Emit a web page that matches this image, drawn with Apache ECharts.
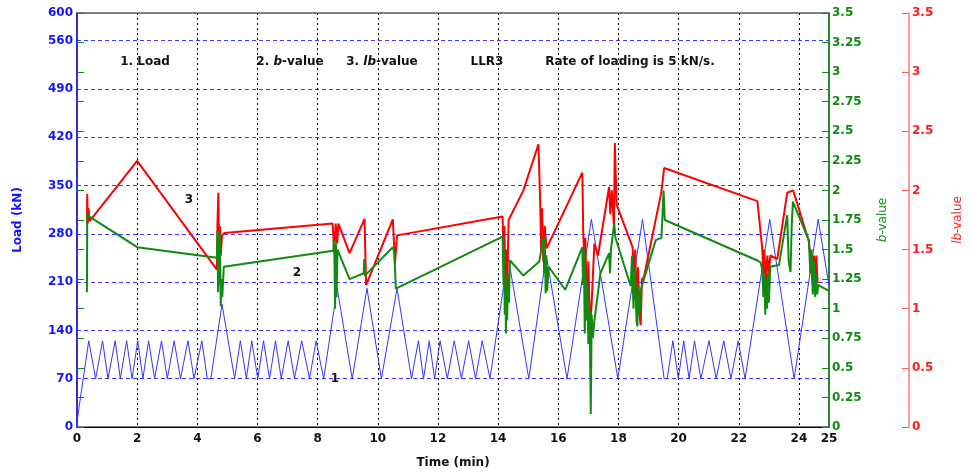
<!DOCTYPE html>
<html>
<head>
<meta charset="utf-8">
<script src="https://cdn.jsdelivr.net/npm/echarts@6/dist/echarts.min.js"></script>
<style>
html, body { margin: 0; padding: 0; background: #fff; }
#chart { width: 972px; height: 474px; }
</style>
</head>
<body>
<div id="chart"></div>
<script>
// load (kN) vs time (min)
var loadData = [
  [0, 8], [0.39, 125], [0.62, 70], [0.85, 125], [1.03, 70], [1.27, 125], [1.44, 70],
  [1.65, 125], [1.83, 70], [2.02, 125], [2.19, 70], [2.38, 125], [2.58, 70], [2.81, 125],
  [3.0, 70], [3.23, 125], [3.44, 70], [3.69, 125], [3.89, 70], [4.15, 125], [4.33, 70],
  [4.45, 70], [4.82, 178], [5.24, 70], [5.43, 125], [5.63, 70], [5.81, 125], [6.01, 70],
  [6.2, 125], [6.4, 70], [6.6, 125], [6.79, 70], [7.02, 125], [7.23, 70], [7.47, 125],
  [7.73, 70], [7.95, 125], [8.2, 70], [8.65, 201], [9.15, 70], [9.64, 201], [10.12, 70],
  [10.64, 201], [11.12, 70], [11.35, 125], [11.52, 70], [11.71, 125], [11.89, 70],
  [12.07, 125], [12.31, 70], [12.54, 125], [12.78, 70], [13.02, 125], [13.25, 70],
  [13.47, 125], [13.73, 70], [14.33, 248], [15.02, 70], [15.6, 249], [16.29, 70],
  [17.1, 301], [17.98, 70], [18.8, 301], [19.52, 70], [19.62, 70], [19.81, 125],
  [19.99, 70], [20.17, 125], [20.35, 70], [20.53, 125], [20.74, 70], [21.01, 125],
  [21.25, 70], [21.5, 125], [21.74, 70], [21.98, 125], [22.21, 70], [23.03, 301],
  [23.84, 70], [24.64, 301], [25, 205]
];

// b-value
var bData = [
  [0.33, 1.14], [0.34, 1.8], [0.4, 1.78], [2.0, 1.52], [4.65, 1.43], [4.67, 1.66],
  [4.69, 1.14], [4.71, 1.65], [4.73, 1.2], [4.75, 1.62], [4.78, 1.02], [4.8, 1.25],
  [4.83, 1.1], [4.88, 1.355], [8.52, 1.49], [8.55, 1.58], [8.58, 1.0], [8.61, 1.55],
  [8.63, 1.1], [8.66, 1.5], [8.69, 1.5], [9.06, 1.25], [9.53, 1.3], [9.55, 1.42],
  [9.57, 1.28], [10.5, 1.52], [10.55, 1.48], [10.6, 1.17], [10.64, 1.17], [14.15, 1.61],
  [14.18, 1.2], [14.2, 1.5], [14.22, 0.95], [14.24, 1.3], [14.26, 0.79], [14.28, 1.2],
  [14.3, 0.9], [14.33, 1.3], [14.36, 1.05], [14.39, 1.41], [14.84, 1.28], [15.37, 1.4],
  [15.5, 1.6], [15.53, 1.3], [15.55, 1.6], [15.58, 1.13], [15.6, 1.45], [15.63, 1.15],
  [15.68, 1.355], [16.23, 1.16], [16.8, 1.52], [16.82, 1.2], [16.85, 1.5], [16.88, 0.79],
  [16.91, 1.3], [16.94, 0.9], [16.97, 1.2], [17.0, 0.7], [17.04, 1.0], [17.08, 0.11],
  [17.11, 0.95], [17.15, 0.75], [17.2, 0.9], [17.4, 1.3], [17.69, 1.47], [17.72, 1.3],
  [17.75, 1.5], [17.86, 1.72], [17.9, 1.6], [18.41, 1.19], [18.45, 1.45], [18.5, 1.0],
  [18.55, 1.35], [18.6, 0.9], [18.63, 0.85], [18.66, 1.2], [18.7, 0.95], [18.74, 1.15],
  [18.8, 1.21], [19.24, 1.58], [19.43, 1.6], [19.5, 2.0], [19.54, 1.75], [22.6, 1.41],
  [22.73, 1.39], [22.78, 1.33], [22.82, 1.1], [22.85, 1.3], [22.88, 0.95], [22.91, 1.25],
  [22.94, 1.0], [22.97, 1.3], [23.0, 1.05], [23.05, 1.355], [23.34, 1.37], [23.55, 1.7],
  [23.61, 1.79], [23.66, 1.4], [23.72, 1.31], [23.76, 1.7], [23.8, 1.905], [24.33, 1.58],
  [24.38, 1.3], [24.42, 1.5], [24.46, 1.12], [24.5, 1.4], [24.54, 1.1], [24.57, 1.3],
  [24.61, 1.12], [24.64, 1.2], [25, 1.15]
];

// lb-value
var lbData = [
  [0.33, 1.72], [0.34, 1.97], [0.36, 1.72], [0.38, 1.85], [0.42, 1.74], [2.0, 2.25],
  [4.65, 1.33], [4.67, 1.72], [4.7, 1.98], [4.72, 1.5], [4.75, 1.7], [4.78, 1.45],
  [4.82, 1.62], [4.9, 1.64], [8.5, 1.72], [8.55, 1.47], [8.6, 1.72], [8.65, 1.55],
  [8.69, 1.72], [9.06, 1.47], [9.56, 1.76], [9.61, 1.2], [10.5, 1.756], [10.57, 1.38],
  [10.64, 1.62], [14.15, 1.78], [14.18, 1.4], [14.21, 1.7], [14.24, 1.16], [14.27, 1.5],
  [14.3, 1.2], [14.35, 1.75], [14.84, 2.0], [15.34, 2.39], [15.4, 1.89], [15.43, 1.5],
  [15.46, 1.85], [15.5, 1.4], [15.55, 1.7], [15.61, 1.51], [16.8, 2.15], [16.83, 1.64],
  [16.87, 1.4], [16.9, 1.6], [16.95, 1.0], [17.0, 1.4], [17.05, 0.875], [17.1, 1.0],
  [17.2, 1.55], [17.32, 1.45], [17.69, 2.03], [17.73, 1.8], [17.78, 2.0], [17.85, 1.7],
  [17.88, 2.4], [17.94, 1.88], [18.47, 1.52], [18.52, 1.3], [18.56, 1.5], [18.6, 1.0],
  [18.65, 1.35], [18.7, 0.95], [18.74, 0.86], [18.78, 1.25], [18.85, 1.27], [19.43, 1.99],
  [19.52, 2.19], [22.62, 1.91], [22.78, 1.51], [22.82, 1.3], [22.85, 1.5], [22.9, 1.21],
  [22.95, 1.45], [23.0, 1.3], [23.05, 1.45], [23.28, 1.42], [23.61, 1.98], [23.81, 2.0],
  [24.33, 1.57], [24.4, 1.4], [24.45, 1.21], [24.5, 1.45], [24.55, 1.25], [24.58, 1.45],
  [24.62, 1.22], [24.64, 1.23]
];

var FONT = 'DejaVu Sans';
var BLUE = '#1414ff';
var GREEN = '#108a10';
var RED = '#ff1a1a';

var chart = echarts.init(document.getElementById('chart'), null, { renderer: 'canvas' });

function label(text, x, y, size) {
  return {
    type: 'text', x: x, y: y,
    style: {
      text: text, fill: '#111', font: 'bold ' + (size || 12) + 'px "' + FONT + '"',
      align: 'center', verticalAlign: 'middle',
      rich: {
        i: { fontStyle: 'italic', fontWeight: 'bold', fontSize: size || 12, fontFamily: FONT, fill: '#111' }
      }
    }
  };
}

var option = {
  animation: false,
  backgroundColor: '#fff',
  grid: { left: 77, right: 142, top: 13, bottom: 47, show: true, borderColor: '#000', borderWidth: 1 },
  xAxis: {
    type: 'value', min: 0, max: 25, interval: 2,
    name: 'Time (min)', nameLocation: 'middle', nameGap: 30,
    nameTextStyle: { color: '#111', fontFamily: FONT, fontWeight: 'bold', fontSize: 12 },
    axisLine: { lineStyle: { color: '#000' } },
    axisTick: { show: false },
    axisLabel: { color: '#111', fontFamily: FONT, fontWeight: 'bold', fontSize: 12, margin: 6 },
    splitLine: { show: true, showMinLine: false, showMaxLine: false, lineStyle: { color: '#000', type: [2, 3], width: 1 } }
  },
  yAxis: [
    {
      type: 'value', position: 'left', min: 0, max: 600, interval: 70,
      name: 'Load (kN)', nameLocation: 'middle', nameGap: 53, nameRotate: 90,
      nameTextStyle: { color: BLUE, fontFamily: FONT, fontWeight: 'bold', fontSize: 12 },
      axisLine: { show: true, lineStyle: { color: BLUE, width: 1.5 } },
      axisTick: { show: false },
      axisLabel: { color: BLUE, fontFamily: FONT, fontWeight: 'bold', fontSize: 12, margin: 4 },
      splitLine: { show: true, showMinLine: false, showMaxLine: false, lineStyle: { color: '#3a3aff', type: [4, 3], width: 1 } }
    },
    {
      type: 'value', position: 'right', offset: 0, min: 0, max: 3.5, interval: 0.25,
      name: '{i|b}-value', nameLocation: 'middle', nameGap: 48, nameRotate: 90,
      nameTextStyle: { color: GREEN, fontFamily: FONT, fontSize: 12,
        rich: { i: { color: GREEN, fontFamily: FONT, fontStyle: 'italic', fontSize: 12 } } },
      axisLine: { show: true, lineStyle: { color: GREEN, width: 1.5 } },
      axisTick: { show: true, inside: true, length: 7, lineStyle: { color: GREEN } },
      axisLabel: { color: GREEN, fontFamily: FONT, fontWeight: 'bold', fontSize: 12, margin: 3 },
      splitLine: { show: false }
    },
    {
      type: 'value', position: 'right', offset: 80, min: 0, max: 3.5, interval: 0.5,
      name: '{i|lb}-value', nameLocation: 'middle', nameGap: 43, nameRotate: 90,
      nameTextStyle: { color: RED, fontFamily: FONT, fontSize: 12,
        rich: { i: { color: RED, fontFamily: FONT, fontStyle: 'italic', fontSize: 12 } } },
      axisLine: { show: true, lineStyle: { color: '#ff7a7a', width: 1.5 } },
      axisTick: { show: true, inside: true, length: 7, lineStyle: { color: '#ff5a5a' } },
      axisLabel: { color: RED, fontFamily: FONT, fontWeight: 'bold', fontSize: 12, margin: 3 },
      splitLine: { show: false }
    },
    {
      // green mirror ticks on the left edge
      type: 'value', position: 'left', offset: 0, min: 0, max: 3.5, interval: 0.25,
      axisLine: { show: false },
      axisTick: { show: true, inside: true, length: 7, lineStyle: { color: GREEN } },
      axisLabel: { show: false },
      splitLine: { show: false }
    }
  ],
  series: [
    {
      name: 'Load', type: 'line', yAxisIndex: 0, data: loadData,
      symbol: 'none', lineStyle: { color: '#3535ff', width: 1 }, z: 2
    },
    {
      name: 'lb-value', type: 'line', yAxisIndex: 2, data: lbData,
      symbol: 'none', lineStyle: { color: '#ff0000', width: 2 }, z: 3
    },
    {
      name: 'b-value', type: 'line', yAxisIndex: 1, data: bData,
      symbol: 'none', lineStyle: { color: '#118a11', width: 2 }, z: 4
    }
  ],
  graphic: [
    label('1. Load', 145, 62),
    label('2. {i|b}-value', 290, 62),
    label('3. {i|lb}-value', 382, 62),
    label('LLR3', 487, 62),
    label('Rate of loading is 5 kN/s.', 630, 62),
    label('3', 189, 200),
    label('2', 297, 273),
    label('1', 335, 379)
  ]
};

chart.setOption(option);
</script>
</body>
</html>
